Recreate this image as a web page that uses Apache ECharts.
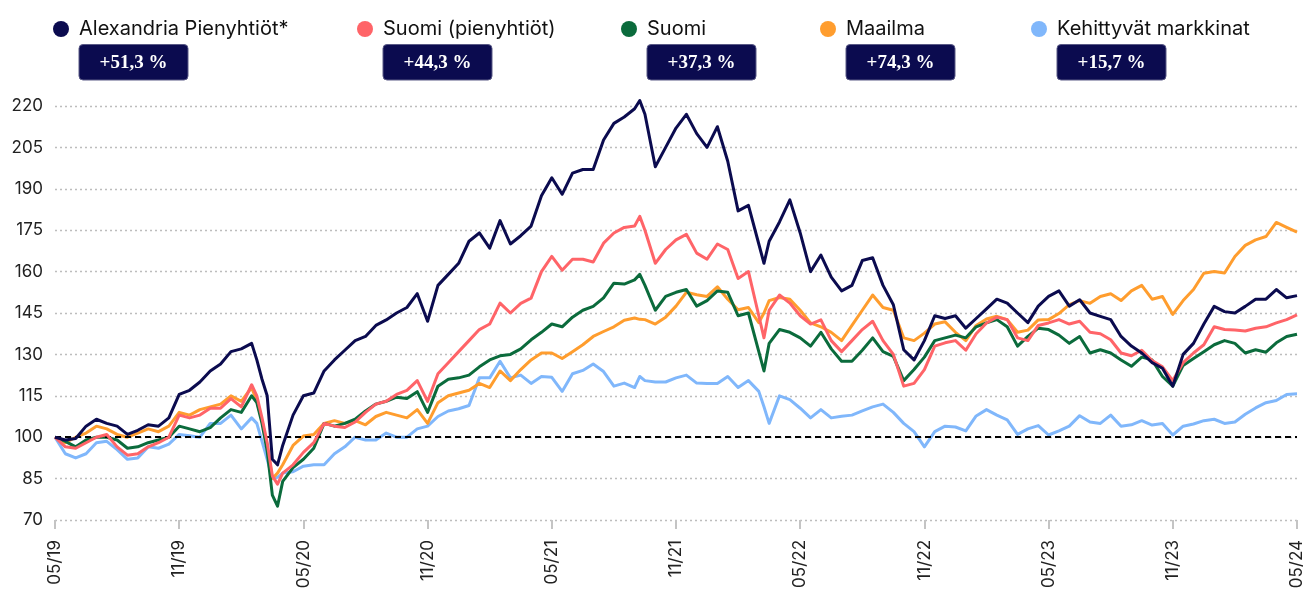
<!DOCTYPE html>
<html>
<head>
<meta charset="utf-8">
<script src="https://cdn.jsdelivr.net/npm/echarts@6/dist/echarts.min.js"></script>
<style>
  html, body { margin: 0; padding: 0; background: #fff; }
  #chart { width: 1303px; height: 595px; }
</style>
</head>
<body>
<div id="chart"></div>
<script>
// months since 05/2019
const months = [
  0, 0.5, 1, 1.5, 2, 2.5, 3, 3.5, 4, 4.5, 5, 5.5, 6, 6.5, 7, 7.5, 8, 8.5, 9, 9.5,
  9.75, 10, 10.25, 10.5, 10.75, 11,
  11.5, 12, 12.5, 13, 13.5, 14, 14.5, 15, 15.5, 16, 16.5, 17, 17.5, 18, 18.5, 19, 19.5, 20,
  20.5, 21, 21.5, 22, 22.5, 23, 23.5, 24, 24.5, 25, 25.5, 26, 26.5, 27, 27.5, 28,
  28.25, 28.5, 29, 29.5, 30,
  30.5, 31, 31.5, 32, 32.5, 33, 33.5, 34,
  34.25, 34.5, 35,
  35.5, 36, 36.5, 37, 37.5, 38, 38.5, 39, 39.5, 40,
  40.5, 41, 41.5, 42, 42.5, 43, 43.5, 44, 44.5, 45, 45.5, 46, 46.5, 47, 47.5, 48, 48.5, 49, 49.5, 50,
  50.5, 51, 51.5, 52, 52.5, 53, 53.5, 54, 54.5, 55, 55.5, 56, 56.5, 57, 57.5, 58, 58.5, 59, 59.5, 60
]

const alexandria = [
  100, 99, 99.5, 104, 106.5, 105, 104, 101, 102.5, 104.5, 104, 107, 115.5, 117, 120, 124, 126.5, 131, 132, 134,
  128, 121, 115, 92, 90, 97,
  108, 115, 116, 124, 128, 131.5, 135, 136.5, 140.5, 142.5, 145, 147, 152, 142, 155, 159, 163, 171,
  174, 168.5, 178.5, 170, 173, 176.5, 187.5, 194, 188, 195.7, 197, 197, 207.7, 213.7, 216, 219,
  222, 217, 198, 205, 212,
  217, 210, 205, 212.5, 200, 182, 184, 170,
  163, 171, 178,
  186, 174, 160, 166, 158, 153, 155, 164, 165, 155,
  148, 131.7, 128, 135, 144, 143, 144, 139.5, 143, 146.5, 150, 148.6, 145, 141.5, 147.5, 151, 153, 147.5, 149.8, 145,
  143.8, 142.6, 136.5, 133, 130.5, 127, 125, 118.5, 130, 134, 141, 147.4, 145.5, 145, 147.4, 150, 150, 153.5, 150.5, 151.3
]

const suomiPien = [
  100, 96.5, 96, 98, 100, 101, 96.5, 93.5, 94, 96.5, 98, 100, 108, 107, 108, 110.5, 110.5, 114, 111, 119,
  115, 107, 98, 86, 83, 87,
  90, 94.5, 98, 105, 104, 103.5, 105.5, 109, 112, 113, 115.5, 117, 120.5, 113, 123, 127, 131, 135,
  139, 141, 148.6, 145, 148.5, 150.4, 160, 165.5, 160.5, 164.5, 164.5, 163.5, 170.3, 174, 176, 176.5,
  180, 175, 163, 168, 171.5,
  173.5, 166.7, 164.5, 170, 168, 157.5, 160, 144,
  136, 146, 151.5,
  148.6, 144, 141, 142.5, 135, 131, 135, 139, 142, 135,
  130, 118.5, 119.5, 124.5, 133, 134.2, 135, 131.5, 137.5, 141.4, 143.5, 142.6, 136, 135, 140.5, 141.4, 142.6, 141, 142, 138,
  137.5, 135.3, 130.5, 129.5, 131.5, 127.8, 125.5, 120.5, 127, 130.5, 133.5, 140, 139, 138.8, 138.5, 139.5, 140, 141.4, 142.6, 144.3
]

const suomi = [
  100, 98.5, 96.5, 99, 100, 100, 99, 96, 96.5, 98, 99, 100, 104, 103, 102, 103.5, 107, 110, 109, 115,
  112.5, 105, 95, 79, 75, 84,
  89, 92, 96, 105, 104, 105, 106.5, 109.5, 112, 113, 114.5, 114, 116.5, 109, 118.5, 121, 121.5, 122.5,
  125.5, 128, 129.5, 130, 132, 135.3, 138, 141, 140, 143.5, 146, 147.4, 150.5, 155.8, 155.5, 157,
  159, 155, 146, 151, 152.5,
  153.5, 147.5, 149.5, 153, 152.5, 144, 145, 131,
  124, 134, 139,
  138, 136, 133, 138, 132, 127.5, 127.5, 131.5, 136, 131,
  129.3, 120.5, 124.5, 129, 135, 136, 137, 136, 140, 141.4, 142.6, 140, 133, 136.5, 139.5, 139, 137, 134, 136.5, 130.5,
  131.7, 130.5, 128, 125.7, 129, 128, 122, 118.5, 126, 128.5, 131, 133.5, 135, 134, 130.5, 131.7, 130.8, 134.2, 136.5, 137.3
]

const maailma = [
  100, 98, 100, 101.5, 104, 103, 101, 100, 101.5, 103, 102, 104, 109, 108, 110, 111, 112, 115, 113, 118,
  113, 106, 97, 85, 87, 90,
  97, 100.4, 101, 105, 106, 105, 106, 104.5, 107.5, 109, 108, 107, 110, 105, 112.5, 115, 116, 117,
  119.5, 118, 124, 120.5, 124.5, 128, 130.5, 130.5, 128.5, 131, 133.5, 136.5, 138.3, 140, 142.4, 143.2,
  142.7, 142.6, 141, 143.5, 147.5,
  152.5, 151.6, 151, 154.5, 150, 146.2, 147, 141.5,
  145, 149.5, 150.6,
  150, 146, 141.4, 140, 138, 135, 140.5, 146, 151.5, 147,
  146, 136, 135, 137.7, 141, 141.8, 138, 135, 140.5, 142.8, 143.8, 142.6, 138, 138.8, 142.5, 142.6, 144.8, 148, 149.5, 148.5,
  151, 152, 149.5, 153, 155, 150, 151, 144.5, 149.5, 153.5, 159.4, 160, 159.5, 165.5, 169.5, 171.5, 172.7, 177.8, 176, 174.3
]

const kehittyvat = [
  100, 94, 92.5, 94, 98, 98.5, 95.5, 92, 92.5, 96.5, 96, 97.5, 101, 100.5, 100, 105, 105, 108, 103, 107,
  105, 98.5, 92, 85, 85.5, 87,
  87.5, 89.5, 90, 90, 94, 96.5, 100, 99, 99, 101.5, 100, 100, 103, 104, 107.5, 109.5, 110.3, 111.5,
  121.5, 121.5, 127.5, 121.5, 122.5, 119.5, 122, 121.7, 116.6, 123, 124.2, 126.5, 123.8, 118.5, 119.6, 118,
  122, 120.5, 120, 120, 121.5,
  122.5, 119.6, 119.5, 119.5, 122, 118, 120.5, 116.6,
  111, 105, 115,
  113.6, 110.5, 107, 110, 107, 107.6, 108, 109.5, 111, 112,
  109, 105, 102, 96.5, 102, 104, 103.7, 102.3, 107.7, 110, 108, 106.3, 101, 103, 104.2, 100.8, 102.3, 104, 107.8, 105.5,
  105, 108, 104, 104.5, 106, 104.4, 105, 100.8, 104, 104.8, 106, 106.5, 105, 105.5, 108.3, 110.6, 112.5, 113.3, 115.5, 115.7
]

const names = ['Alexandria Pienyhtiöt*', 'Suomi (pienyhtiöt)', 'Suomi', 'Maailma', 'Kehittyvät markkinat']
const values = [alexandria, suomiPien, suomi, maailma, kehittyvat]
const colors = ['#0b0b4f', '#ff6468', '#0b6b3c', '#ff9d2e', '#80b7fb']
const legendLeft = [48, 352, 616, 815, 1026]
const baseline = 100

const font = 'Inter, "Noto Sans", sans-serif'

function monthLabel(m) {
  const total = 4 + m
  const mm = (total % 12) + 1
  const yy = 19 + Math.floor(total / 12)
  return String(mm).padStart(2, '0') + '/' + yy
}

function changeLabel(arr) {
  const d = arr[arr.length - 1] - baseline
  return (d >= 0 ? '+' : '') + d.toFixed(1).replace('.', ',') + ' %'
}

const chart = echarts.init(document.getElementById('chart'))

// drawing order: emerging markets at the back, Alexandria on top
const order = [4, 3, 2, 1, 0]
const series = order.map((k, j) => ({
  type: 'line',
  name: names[k],
  data: months.map((m, i) => [m, values[k][i]]),
  symbol: 'none',
  clip: false,
  z: 2 + j,
  lineStyle: { width: 3, color: colors[k], join: 'round' },
  itemStyle: { color: colors[k] },
  markLine: j === 0 ? {
    silent: true,
    symbol: ['none', 'none'],
    label: { show: false },
    lineStyle: { color: '#000', type: [6, 4], width: 2 },
    data: [{ yAxis: baseline }],
  } : undefined,
}))

chart.setOption({
  animation: false,
  textStyle: { fontFamily: font },
  grid: { left: 55, right: 6, top: 106, bottom: 75, containLabel: false, outerBoundsMode: 'none' },
  legend: names.map((n, i) => ({
    data: [n],
    left: legendLeft[i],
    top: 14,
    icon: 'circle',
    itemWidth: 26,
    itemHeight: 16,
    selectedMode: false,
    textStyle: { fontSize: 20, color: '#111', fontFamily: font },
  })),
  graphic: values.map((arr, i) => ({
    type: 'group',
    x: legendLeft[i] + 31,
    y: 44.5,
    children: [
      {
        type: 'rect',
        shape: { x: 0, y: 0, width: 109, height: 35.5, r: 4 },
        style: { fill: '#0b0b4f', stroke: '#5a5a86', lineWidth: 1 },
      },
      {
        type: 'text',
        x: 54.5,
        y: 18.5,
        style: {
          text: changeLabel(arr),
          fill: '#fff',
          font: 'bold 19px "Liberation Serif", serif',
          align: 'center',
          verticalAlign: 'middle',
        },
      },
    ],
  })),
  xAxis: {
    type: 'value',
    min: 0,
    max: 60,
    interval: 6,
    axisLine: { show: false },
    axisTick: { show: true, length: 9, lineStyle: { color: '#c4c4c4', width: 2 } },
    splitLine: { show: false },
    axisLabel: {
      rotate: 90,
      margin: 20,
      fontSize: 17,
      color: '#222',
      showMinLabel: true,
      showMaxLabel: true,
      formatter: monthLabel,
    },
  },
  yAxis: {
    type: 'value',
    min: 70,
    max: 220,
    interval: 15,
    axisLine: { show: false },
    axisTick: { show: false },
    axisLabel: { fontSize: 17, color: '#222', margin: 12 },
    splitLine: { lineStyle: { color: '#bdbdbd', type: [2, 3], width: 1.3 } },
  },
  series,
})
</script>
</body>
</html>
